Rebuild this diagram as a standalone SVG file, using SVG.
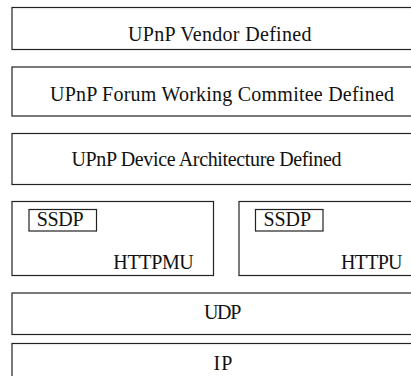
<svg xmlns="http://www.w3.org/2000/svg" width="411" height="376" viewBox="0 0 411 376">
<style>
.box{fill:#fff;stroke:#222;stroke-width:1.2}
.t{font-family:'Times New Roman','Liberation Serif',Tinos,serif;font-size:20px;fill:#111}
</style>
<rect width="411" height="376" fill="#fff"/>
<g id="vendor"><rect class="box" x="12" y="7.5" width="420" height="42"/><text class="t" x="128" y="40.7" textLength="183.5">UPnP Vendor Defined</text></g>
<g id="forum"><rect class="box" x="12" y="67" width="420" height="49"/><text class="t" x="50" y="100.7" textLength="344">UPnP Forum Working Commitee Defined</text></g>
<g id="device"><rect class="box" x="12" y="133.5" width="420" height="51"/><text class="t" x="71.5" y="165.5" textLength="270">UPnP Device Architecture Defined</text></g>
<g id="httpmu"><rect class="box" x="12" y="201.5" width="201.5" height="74"/><text class="t" x="113.3" y="268.5" textLength="80.5">HTTPMU</text></g>
<g id="ssdp1"><rect class="box" x="29" y="209.5" width="67.5" height="21.5"/><text class="t" x="36.7" y="225.5" textLength="46.8">SSDP</text></g>
<g id="httpu"><rect class="box" x="239" y="201.5" width="200" height="74"/><text class="t" x="341" y="268.5" textLength="61.5">HTTPU</text></g>
<g id="ssdp2"><rect class="box" x="255.5" y="209.5" width="67.5" height="21.5"/><text class="t" x="263.5" y="225.5" textLength="47.5">SSDP</text></g>
<g id="udp"><rect class="box" x="12" y="293" width="420" height="41.5"/><text class="t" x="204" y="318.5" textLength="37.3">UDP</text></g>
<g id="ip"><rect class="box" x="12" y="343.5" width="420" height="50"/><text class="t" x="213.5" y="370" textLength="18.8">IP</text></g>
<g id="connectors"/>
</svg>
